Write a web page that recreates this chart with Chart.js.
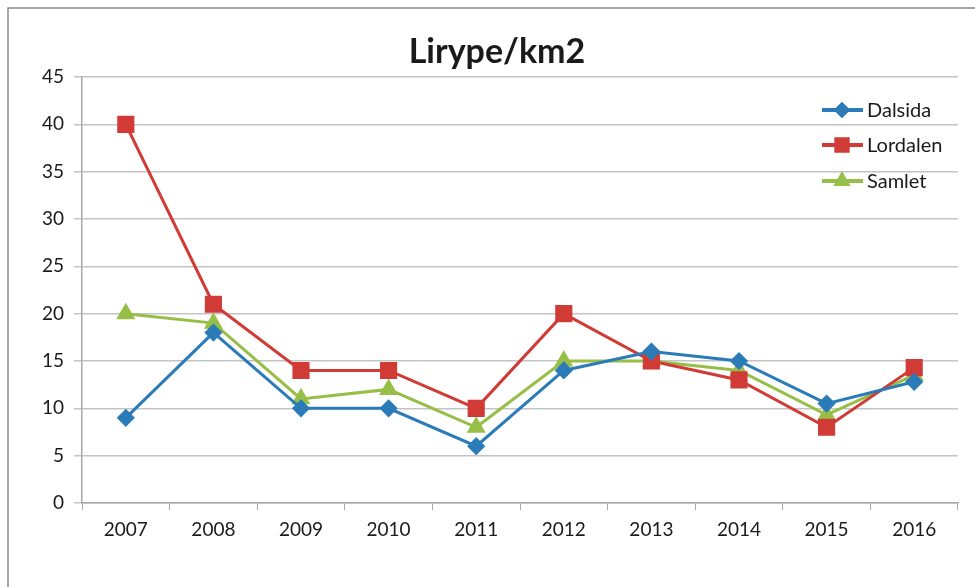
<!DOCTYPE html>
<html>
<head>
<meta charset="utf-8">
<script src="https://cdn.jsdelivr.net/npm/chart.js@4/dist/chart.umd.min.js"></script>
<style>
  html, body { margin: 0; padding: 0; background: #fff; }
  #wrap { width: 975px; height: 587px; position: relative; }
</style>
</head>
<body>
<div id="wrap"><canvas id="c" width="975" height="587"></canvas></div>
<script>
const categories = ['2007','2008','2009','2010','2011','2012','2013','2014','2015','2016'];
const dalsida  = [9, 18, 10, 10, 6, 14, 16, 15, 10.5, 12.8];
const lordalen = [40, 21, 14, 14, 10, 20, 15, 13, 8, 14.3];
const samlet   = [20, 19, 11, 12, 8, 15, 15, 14, 9.3, 13.5];
const seriesNames = ['Dalsida', 'Lordalen', 'Samlet'];
const yTicks = [0, 5, 10, 15, 20, 25, 30, 35, 40, 45];
const titleText = 'Lirype/km2';

const colors = ['#2B7BB9', '#D13B36', '#97BE47'];
const shapes = ['rectRot', 'rect', 'triangle'];
const radii = [7, 10, 8];
const legendRadii = [5.5, 8, 6];
const FONT = "Lato, 'Open Sans', sans-serif";

const frameAndTitle = {
  id: 'frameAndTitle',
  beforeDraw(chart) {
    const ctx = chart.ctx;
    ctx.save();
    ctx.fillStyle = '#fff';
    ctx.fillRect(0, 0, chart.width, chart.height);
    ctx.strokeStyle = '#8a8a8a';
    ctx.lineWidth = 1.5;
    ctx.beginPath();
    ctx.moveTo(8, chart.height);
    ctx.lineTo(8, 8);
    ctx.lineTo(chart.width, 8);
    ctx.stroke();
    ctx.restore();
  },
  afterDraw(chart) {
    const ctx = chart.ctx;
    ctx.save();
    ctx.fillStyle = '#1a1a1a';
    ctx.font = "bold 34px " + FONT;
    ctx.textAlign = 'center';
    ctx.textBaseline = 'alphabetic';
    ctx.fillText(titleText, 497, 63);
    // legend
    const rows = [110, 145, 181];
    chart.data.datasets.forEach((ds, i) => {
      const y = rows[i];
      ctx.strokeStyle = ds.borderColor;
      ctx.lineWidth = 4;
      ctx.beginPath();
      ctx.moveTo(822, y);
      ctx.lineTo(863, y);
      ctx.stroke();
      ctx.fillStyle = ds.borderColor;
      Chart.helpers.drawPoint(ctx, {
        pointStyle: ds.pointStyle,
        radius: legendRadii[i],
        rotation: 0,
        borderWidth: 1
      }, 842, y);
      ctx.fillStyle = '#1a1a1a';
      ctx.font = "20px " + FONT;
      ctx.textAlign = 'left';
      ctx.textBaseline = 'middle';
      ctx.fillText(ds.label, 867, y + 1);
    });
    ctx.restore();
  }
};

const seriesData = [dalsida, lordalen, samlet];
const datasets = seriesData.map((d, i) => ({
  label: seriesNames[i],
  data: d,
  borderColor: colors[i],
  backgroundColor: colors[i],
  pointBackgroundColor: colors[i],
  pointBorderColor: colors[i],
  pointStyle: shapes[i],
  pointRadius: radii[i],
  pointHoverRadius: radii[i],
  borderWidth: 3,
  tension: 0,
  fill: false
}));

new Chart(document.getElementById('c'), {
  type: 'line',
  data: { labels: categories, datasets: datasets },
  plugins: [frameAndTitle],
  options: {
    responsive: false,
    animation: false,
    devicePixelRatio: 1,
    layout: { padding: { left: 0, right: 17, top: 77, bottom: 0 } },
    plugins: {
      legend: { display: false },
      title: { display: false },
      tooltip: { enabled: false }
    },
    scales: {
      x: {
        offset: true,
        grid: { display: true, drawOnChartArea: false, drawTicks: true, tickLength: 7, color: '#a8a8a8', offset: true },
        border: { display: true, color: '#a8a8a8', width: 1.5 },
        ticks: { color: '#1a1a1a', font: { family: FONT, size: 19 }, padding: 8, maxRotation: 0 },
        afterFit(s) { s.height = 84; }
      },
      y: {
        min: 0, max: 45,
        afterBuildTicks(s) { s.ticks = yTicks.map(v => ({ value: v })); },
        grid: { color: '#c4c4c4', lineWidth: 1.5, drawTicks: true, tickLength: 8 },
        border: { display: true, color: '#a8a8a8', width: 1.5 },
        ticks: { color: '#1a1a1a', font: { family: FONT, size: 19 }, padding: 10 },
        afterFit(s) { s.width = 82; }
      }
    }
  }
});
</script>
</body>
</html>
